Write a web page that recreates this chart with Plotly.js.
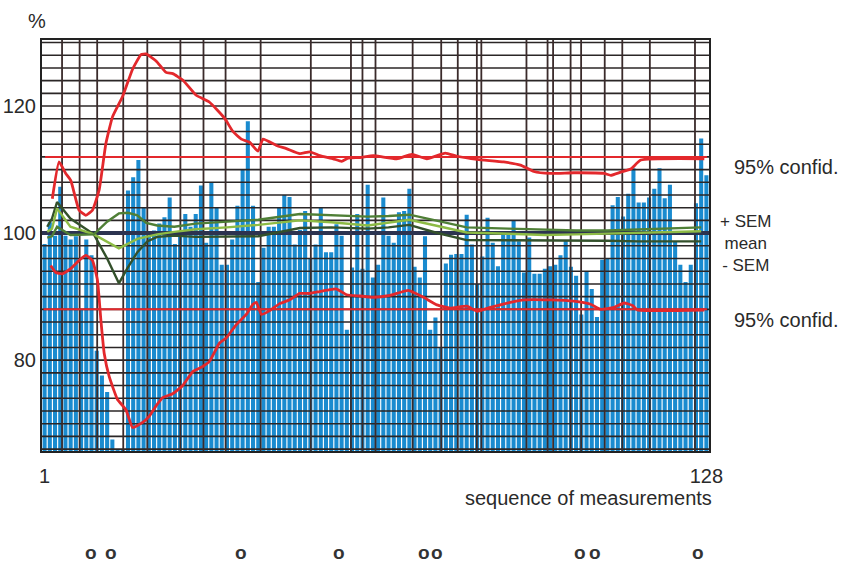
<!DOCTYPE html>
<html>
<head>
<meta charset="utf-8">
<script src="https://cdn.plot.ly/plotly-3.0.1.min.js"></script>
<style>html,body{margin:0;padding:0;background:#fff;}#chart{width:841px;height:570px;}</style>
</head>
<body>
<div id="chart"></div>
<script>
// ---- data ----
const barValues = [
  98.3, 101.7, 99.6, 107.3, 99.6, 99.0, 99.5, 88.0, 99.0, 96.5,
  81.5, 77.6, 75.0, 67.5, 65.9, 65.9, 106.7, 108.8, 111.5, 104.1,
  99.6, 100.4, 101.5, 102.5, 105.6, 98.3, 99.6, 103.0, 101.0, 103.0,
  107.5, 98.5, 108.0, 104.0, 95.0, 95.0, 99.0, 104.3, 110.0, 117.6,
  104.3, 92.3, 97.7, 101.0, 101.0, 104.0, 106.0, 105.7, 98.2, 100.5,
  103.5, 96.0, 98.2, 104.0, 97.0, 97.0, 101.4, 99.6, 84.8, 94.6,
  103.0, 94.4, 107.6, 93.0, 95.0, 105.6, 99.6, 98.5, 103.3, 103.5,
  107.0, 94.7, 93.0, 99.5, 84.8, 86.7, 82.0, 95.2, 96.6, 96.7,
  96.7, 102.9, 98.2, 92.0, 96.3, 102.4, 98.5, 94.8, 100.0, 100.1,
  102.0, 98.7, 93.8, 99.3, 93.6, 93.6, 94.4, 94.8, 95.0, 96.5,
  98.8, 94.7, 93.3, 87.2, 94.0, 91.2, 86.8, 95.8, 96.0, 104.4,
  105.7, 102.6, 106.2, 110.2, 104.8, 104.8, 105.6, 107.0, 110.2, 105.5,
  107.6, 98.6, 95.0, 92.3, 95.0, 104.7, 114.9, 109.1
];
const measurementNo = barValues.map((v, i) => i + 1);

const confUpperX = [2.48, 3.77, 5.06, 6.02, 7.62, 8.91, 10.18, 11.47, 12.76, 14.03,
  15.96, 17.88, 19.5, 20.46, 22.39, 24.31, 25.58, 27.51, 30.09, 32.65,
  35.53, 37.13, 38.75, 40.35, 41.94, 42.91, 45.49, 47.41, 49.97, 51.9,
  53.82, 56.38, 58.0, 59.27, 61.52, 64.08, 68.58, 71.47, 74.36, 77.88,
  80.13, 83.98, 89.1, 92.32, 94.88, 98.09, 102.58, 108.35, 109.64, 111.57,
  113.49, 115.42, 127.6];
const confUpperY = [105.4, 111.2, 109.4, 108.3, 103.6, 102.8, 103.6, 106.8, 114.1, 118.3,
  121.5, 125.8, 128.1, 128.2, 127.1, 125.3, 125.1, 124.1, 121.7, 120.6,
  118.1, 116.0, 114.8, 114.3, 112.9, 114.8, 113.8, 113.3, 112.5, 112.8,
  112.2, 111.7, 111.3, 111.8, 111.9, 112.2, 111.7, 112.4, 111.7, 112.6,
  112.1, 111.6, 111.2, 110.7, 109.7, 109.4, 109.5, 109.4, 109.1, 109.6,
  110.1, 111.5, 111.7];

const confLowerX = [2.17, 3.14, 4.41, 6.02, 7.62, 8.91, 10.18, 11.14, 11.8, 12.43,
  13.4, 14.99, 16.61, 17.88, 19.81, 21.1, 22.39, 23.66, 25.58, 27.51,
  29.43, 31.36, 32.65, 34.57, 35.86, 37.79, 39.71, 40.98, 41.64, 42.6,
  44.2, 46.12, 48.05, 49.97, 51.9, 53.82, 55.75, 57.03, 58.96, 61.52,
  64.08, 67.3, 70.82, 73.7, 76.29, 78.84, 82.06, 83.98, 86.54, 90.39,
  92.95, 98.09, 102.58, 105.79, 107.72, 110.28, 112.2, 113.82, 114.78, 127.6];
const confLowerY = [94.9, 93.8, 93.6, 94.4, 95.7, 96.5, 95.7, 92.6, 86.3, 81.1,
  77.4, 73.8, 72.2, 69.4, 70.2, 71.2, 72.8, 74.1, 74.7, 76.0,
  78.2, 79.0, 79.8, 82.7, 83.5, 85.6, 87.2, 88.8, 89.1, 87.2,
  87.8, 88.9, 89.5, 90.5, 90.5, 90.8, 91.1, 91.2, 90.3, 90.1,
  89.9, 90.2, 91.0, 89.9, 88.7, 88.2, 88.5, 87.7, 88.3, 89.1,
  89.5, 89.5, 89.3, 88.8, 88.0, 88.3, 89.0, 88.6, 87.9, 87.9];

const plusSemX = [1.5, 2.42, 3.39, 5.95, 10.45, 13, 15.26, 17, 18.8, 20.5, 22.6, 25.9, 30, 36, 42, 50, 56, 63, 67, 71, 76, 82, 90, 97, 103, 109, 115, 121, 127];
const plusSemY = [99.3, 99.5, 101.0, 99.7, 99.8, 101.8, 103.1, 103.2, 102.8, 101.6, 101.2, 101.0, 101.5, 101.8, 102.1, 103.0, 102.8, 102.6, 102.7, 102.9, 102.0, 100.9, 100.7, 100.5, 100.4, 100.4, 100.6, 100.7, 100.9];
const meanX = [1.5, 2.42, 3.39, 5.95, 10.45, 13, 15.26, 18.8, 22.6, 25.9, 30, 36, 42, 50, 56, 63, 67, 71, 76, 82, 90, 97, 103, 109, 115, 121, 127];
const meanY = [100.2, 100.7, 103.9, 101.0, 99.8, 98.6, 97.6, 99.1, 99.8, 100.2, 100.6, 100.9, 101.3, 102.0, 101.7, 101.2, 101.7, 102.1, 101.2, 100.1, 99.9, 99.7, 99.8, 99.9, 100.0, 100.1, 100.3];
const minusSemX = [1.5, 2.42, 3.39, 5.95, 10.45, 13, 15.26, 16.9, 18.8, 20.7, 22.6, 25.9, 30, 36, 42, 50, 56, 63, 67, 71, 76, 82, 90, 97, 103, 109, 115, 121, 127];
const minusSemY = [101.0, 102.3, 104.9, 102.3, 99.8, 96.0, 92.1, 94.5, 97.0, 98.7, 99.4, 99.6, 99.4, 99.4, 99.5, 100.8, 100.9, 100.7, 100.9, 101.3, 100.1, 98.9, 98.9, 98.9, 98.8, 98.8, 98.7, 98.7, 98.7];

const confLevels = [112, 88];
const referenceLevel = 100;
const markedMeasurements = [9.9, 13.8, 38.6, 57.5, 73.8, 76.3, 103.7, 106.6, 126.4];
const yTickVals = [80, 100, 120];
const xTickVals = [1, 128];
const xTickText = ['1', '128'];

// ---- styling / layout helpers ----
const X0 = 0.5, X1 = 128.5, Y0 = 65.7, Y1 = 130.4;
const vGridAt = [4.35, 7.72, 11.09, 16.09, 20.71, 27.06, 31.49, 35.73, 42.46, 52.09, 59.79, 62.0, 64.5,
  71.63, 77.11, 80.29, 83.95, 84.81, 93.47, 97.52, 98.58, 101.94, 103.96, 108.49, 111.86, 117.15, 125.81];

const hgx = [], hgy = [];
for (let v = 66; v <= 130; v += 2) { hgx.push(X0, X1, null); hgy.push(v, v, null); }
const vgx = [], vgy = [];
vGridAt.forEach(g => { vgx.push(g, g, null); vgy.push(Y0, Y1, null); });

const redC = '#e3282c';
const traces = [
  { type: 'bar', x: measurementNo, y: barValues, marker: { color: '#1a8bcf', line: { width: 0 } }, hoverinfo: 'x+y' },
  { type: 'scatter', mode: 'lines', x: hgx, y: hgy, line: { color: '#2b2626', width: 1.6 }, hoverinfo: 'skip' },
  { type: 'scatter', mode: 'lines', x: vgx, y: vgy, line: { color: '#3a2b2b', width: 1.8 }, hoverinfo: 'skip' },
  { type: 'scatter', mode: 'lines', x: [X0, X1], y: [referenceLevel, referenceLevel], line: { color: '#2c3350', width: 4 }, hoverinfo: 'skip' },
  { type: 'scatter', mode: 'lines', x: [X0 + 0.6, X1 - 0.4], y: [confLevels[0], confLevels[0]], line: { color: redC, width: 2 }, hoverinfo: 'skip' },
  { type: 'scatter', mode: 'lines', x: [X0 + 0.3, X1 - 0.4], y: [confLevels[1], confLevels[1]], line: { color: redC, width: 2 }, hoverinfo: 'skip' },
  { type: 'scatter', mode: 'lines', x: confUpperX, y: confUpperY, line: { color: redC, width: 2.8, shape: 'spline', smoothing: 0.4 } },
  { type: 'scatter', mode: 'lines', x: confLowerX, y: confLowerY, line: { color: redC, width: 2.8, shape: 'spline', smoothing: 0.4 } },
  { type: 'scatter', mode: 'lines', x: minusSemX, y: minusSemY, line: { color: '#33502b', width: 2.4 } },
  { type: 'scatter', mode: 'lines', x: meanX, y: meanY, line: { color: '#8dbb45', width: 2.4 } },
  { type: 'scatter', mode: 'lines', x: plusSemX, y: plusSemY, line: { color: '#4f7f36', width: 2.4 } }
];

const F = 'Liberation Sans, Arial, sans-serif';
const txt = (text, x, y, xanchor, extra) => Object.assign({
  text, x, y, xref: 'paper', yref: 'paper', xanchor, yanchor: 'middle', showarrow: false,
  font: { family: F, size: 20, color: '#2a2a2a' }
}, extra || {});

const annotations = [
  txt('%', -0.008, 1.046, 'center'),
  txt('sequence of measurements', 1.008, -0.114, 'right'),
  txt('95% confid.', 1.035, 0.691, 'left'),
  txt('+ SEM<br>mean<br>- SEM', 1.014, 0.504, 'left', { align: 'center', font: { family: F, size: 17, color: '#2a2a2a' } }),
  txt('95% confid.', 1.035, 0.319, 'left')
];
markedMeasurements.forEach(m => annotations.push({
  text: '<b>o</b>', x: m, y: -0.246, xref: 'x', yref: 'paper', xanchor: 'center', yanchor: 'middle',
  showarrow: false, font: { family: F, size: 19, color: '#333' }
}));

const layout = {
  width: 841, height: 570,
  margin: { l: 42, r: 132, t: 40, b: 119, pad: 0 },
  paper_bgcolor: '#ffffff', plot_bgcolor: '#ffffff',
  showlegend: false, bargap: 0.22,
  font: { family: F, size: 20, color: '#2a2a2a' },
  xaxis: {
    range: [X0, X1], tickvals: xTickVals, ticktext: xTickText,
    showgrid: false, zeroline: false, showline: true, mirror: true,
    linecolor: '#222', linewidth: 2, ticks: 'outside', ticklen: 6, tickcolor: 'rgba(0,0,0,0)',
    tickfont: { family: F, size: 20, color: '#2a2a2a' }
  },
  yaxis: {
    range: [Y0, Y1], tickvals: yTickVals, showgrid: false, zeroline: false,
    showline: true, mirror: true, linecolor: '#222', linewidth: 2, ticks: '',
    tickfont: { family: F, size: 20, color: '#2a2a2a' }
  },
  annotations
};

Plotly.newPlot('chart', traces, layout, { displayModeBar: false, staticPlot: true });
</script>
</body>
</html>
